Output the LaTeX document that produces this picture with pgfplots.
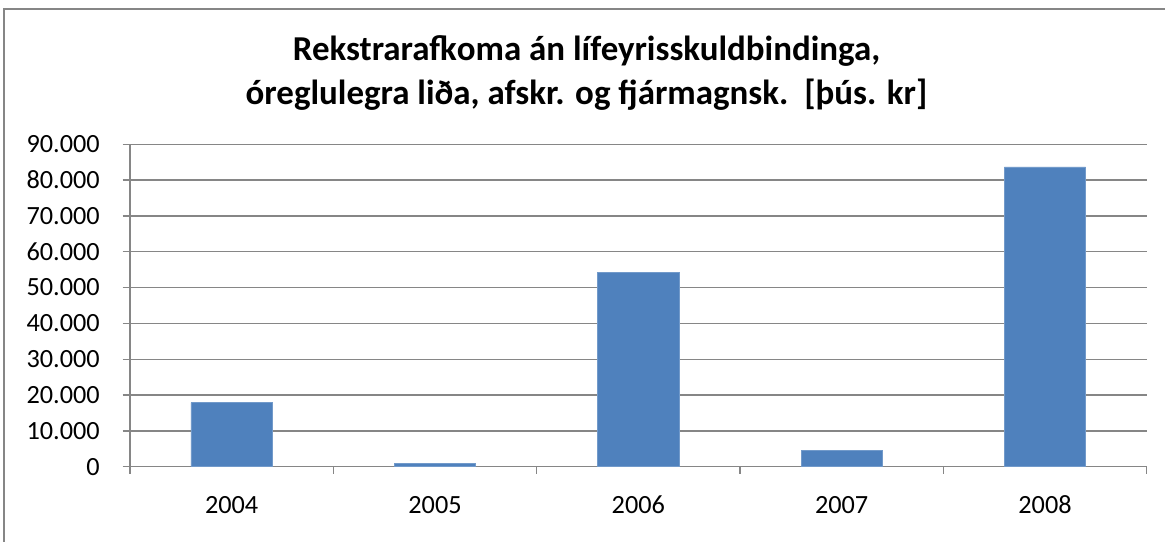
\documentclass[border=0pt]{standalone}
\usepackage{fontspec}
\setmainfont{Carlito}
\usepackage{pgfplots}
\pgfplotsset{compat=1.18}
\definecolor{barblue}{HTML}{4F81BD}
\definecolor{gridgray}{HTML}{868686}
\begin{document}
\begin{tikzpicture}
\path[use as bounding box] (-97.5pt,-56.5pt) rectangle (776.25pt,350pt);
\draw[gridgray, line width=1.5pt] (-94.5pt,-60pt) -- (-94.5pt,343.3pt) -- (780pt,343.3pt);
\node[anchor=base, font=\bfseries\fontsize{26.2pt}{30pt}\selectfont] at (342.4pt,304.3pt) {Rekstrarafkoma án lífeyrisskuldbindinga,};
\node[anchor=base, font=\bfseries\fontsize{26.2pt}{30pt}\selectfont] at (342.4pt,271.8pt) {óreglulegra liða, afskr. og fjármagnsk.\ \ [þús. kr]};
\begin{axis}[
  at={(0,0)}, anchor=south west,
  scale only axis,
  width=762.5pt, height=241.8pt,
  xmin=-0.5, xmax=4.5,
  ymin=0, ymax=90000,
  ytick={0,10000,...,90000},
  scaled y ticks=false,
  /pgf/number format/assume math mode=true,
  /pgf/number format/fixed,
  /pgf/number format/1000 sep={.},
  y tick label style={anchor=east, inner sep=0pt, xshift=-17pt},
  xtick={-0.5,0.5,1.5,2.5,3.5,4.5},
  xticklabels={},
  extra x ticks={0,1,2,3,4},
  extra x tick labels={2004,2005,2006,2007,2008},
  extra x tick style={major tick length=0pt, grid=none,
     tick label style={anchor=base, inner sep=0pt, yshift=-35.5pt}},
  tick align=outside,
  major tick length=5.5pt,
  axis lines*=left,
  axis line style={gridgray, line width=1pt},
  tick style={gridgray, line width=1pt},
  ymajorgrids,
  xmajorgrids=false,
  grid style={gridgray, line width=1pt},
  tick label style={font=\fontsize{19.7pt}{23pt}\selectfont},
  ybar, bar width=0.4,
  clip=false,
]
\addplot[fill=barblue, draw=barblue!80!white, line width=0.5pt] coordinates {(0,17900) (1,800) (2,54300) (3,4650) (4,83700)};
\end{axis}
\end{tikzpicture}
\end{document}
